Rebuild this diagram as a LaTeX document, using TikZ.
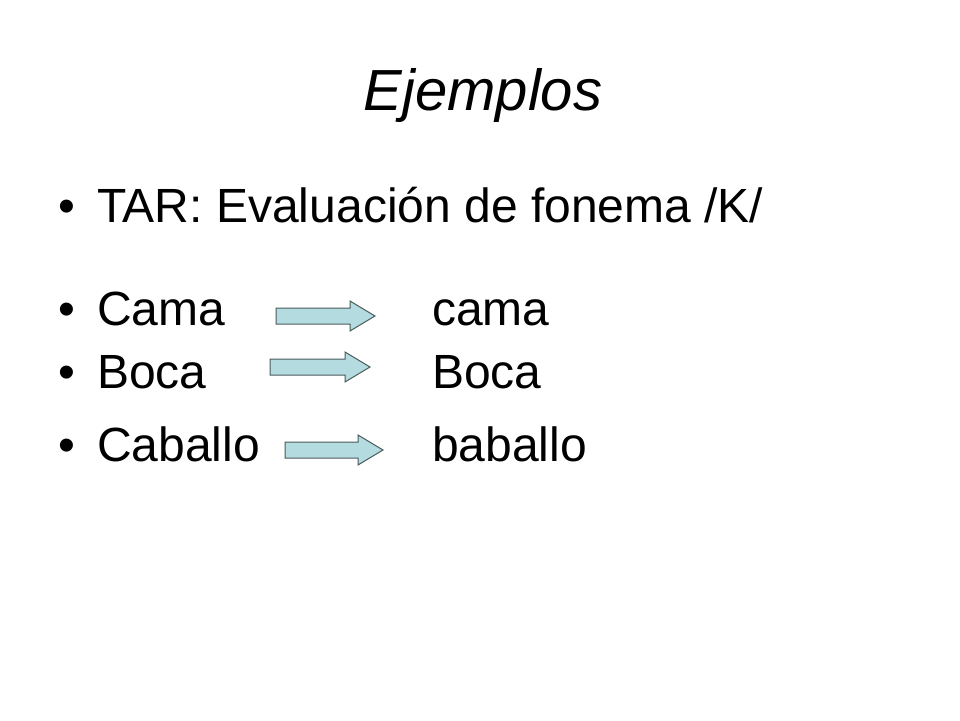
\documentclass[tikz,border=0pt]{standalone}
\usepackage{fontspec}
\setmainfont{Liberation Sans}
\definecolor{arrfill}{HTML}{B4DCE0}
\definecolor{arrline}{HTML}{4A5A5C}
\tikzset{txt/.style={anchor=base west,inner sep=0pt,font=\fontsize{48}{50}\selectfont},
bul/.style={anchor=base west,inner sep=0pt,font=\fontsize{48}{50}\selectfont},
arr/.style={draw=arrline,line width=1pt,fill=arrfill,line join=miter}}
\newcommand{\blockarrow}[5]{% x1 x2 yc headx name
\draw[arr] (#1,#3+8) -- (#4,#3+8) -- (#4,#3+15) -- (#2,#3) -- (#4,#3-15) -- (#4,#3-8) -- (#1,#3-8) -- cycle;}
\begin{document}
\begin{tikzpicture}[x=1pt,y=-1pt]
\useasboundingbox (0,0) rectangle (960,720);
\node[anchor=base,inner sep=0pt,font=\fontsize{58}{60}\selectfont\itshape] (title) at (483,110) {Ejemplos};
\node[bul] (b1) at (58,222) {•};
\node[txt] (t1) at (97,222) {TAR: Evaluación de fonema /K/};
\node[bul] (b2) at (58,325) {•};
\node[txt] (t2) at (97,325) {Cama};
\node[txt] (r2) at (432,325) {cama};
\node[bul] (b3) at (58,388) {•};
\node[txt] (t3) at (97,388) {Boca};
\node[txt] (r3) at (432,388) {Boca};
\node[bul] (b4) at (58,461) {•};
\node[txt] (t4) at (97,461) {Caballo};
\node[txt] (r4) at (432,461) {baballo};
\blockarrow{276}{375}{316}{350}{a1}
\blockarrow{270}{370}{367}{345}{a2}
\blockarrow{285}{383}{450}{358}{a3}
\end{tikzpicture}
\end{document}
